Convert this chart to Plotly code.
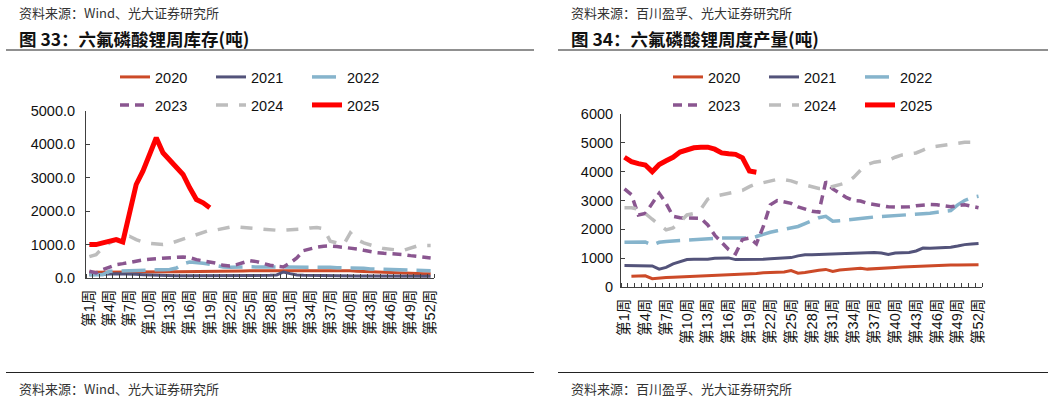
import plotly.graph_objects as go

W, H = 1062, 399

weeks = list(range(1, 53))
tick_weeks = [1, 4, 7, 10, 13, 16, 19, 22, 25, 28, 31, 34, 37, 40, 43, 46, 49, 52]
tick_labels = ["第1周", "第4周", "第7周", "第10周", "第13周", "第16周", "第19周", "第22周", "第25周",
               "第28周", "第31周", "第34周", "第37周", "第40周", "第43周", "第46周", "第49周", "第52周"]
years = ["2020", "2021", "2022", "2023", "2024", "2025"]

# ---- Figure 33: weekly inventory (tons)
inv_2020 = [170,170,165,165,170,170,175,175,180,180,180,185,185,190,190,195,195,200,200,205,205,210,210,210,215,215,
            220,220,225,225,230,230,230,235,235,235,235,230,225,215,205,195,185,175,165,160,150,145,140,135,130,125]
inv_2021 = [100,100,110,120,125,125,120,110,100,90,80,75,70,70,65,65,60,60,60,60,60,60,60,60,65,70,
            75,80,90,180,130,90,80,75,70,70,65,65,65,65,60,60,60,60,60,55,55,55,55,55,55,55]
inv_2022 = [100,100,100,200,210,220,225,230,235,240,245,250,255,300,420,480,470,440,410,360,330,320,330,340,335,330,
            330,330,335,340,340,340,340,340,340,335,320,310,310,310,305,290,270,265,265,260,255,250,235,230,225,220]
inv_2023 = [200,150,250,330,400,430,470,510,540,560,580,600,610,620,630,610,550,510,490,440,380,360,400,460,520,490,
            430,380,350,330,450,600,820,880,920,950,960,940,920,900,870,830,790,760,740,730,720,700,670,650,630,600]
inv_2024 = [640,700,900,1050,1150,1200,1250,1150,1080,1040,1020,1000,1030,1100,1150,1220,1300,1380,1430,1440,1480,1520,1530,1510,1490,1470,
            1450,1440,1430,1430,1440,1450,1470,1500,1510,1480,1100,1050,1000,1350,1150,1050,980,930,880,850,840,830,900,960,970,970]
inv_2025 = [1000,1000,1050,1100,1150,1080,2000,2800,3200,3700,4200,3750,3550,3350,3100,2700,2350,2250,2100]

# ---- Figure 34: weekly output (tons)
out_2020 = [None,370,380,390,290,320,330,340,350,360,360,380,390,400,420,430,440,440,450,470,490,500,510,520,570,480,
            500,550,580,610,540,590,610,630,650,620,640,660,670,680,690,700,720,740,750,750,755,760,760,765,765,770]
out_2021 = [750,750,750,750,730,620,680,800,880,950,960,960,960,1000,1010,1010,950,950,950,960,960,980,990,1000,1020,1080,
            1120,1120,1130,1140,1150,1160,1170,1180,1180,1190,1200,1180,1130,1180,1190,1200,1250,1350,1340,1350,1370,1380,1420,1470,1490,1510]
out_2022 = [1550,1560,1570,1560,1450,1550,1580,1600,1610,1620,1640,1660,1680,1690,1700,1700,1700,1690,1700,1750,1830,1900,1950,2000,2050,2100,
            2200,2300,2400,2450,2280,2300,2320,2350,2380,2400,2430,2450,2460,2470,2480,2500,2520,2540,2560,2580,2620,2650,2850,3000,3100,3150]
out_2023 = [3400,3200,2500,2550,2900,3250,2900,2450,2400,2400,2400,2380,2150,1800,1550,1300,1150,1650,1700,1500,2100,2850,3000,2950,2900,2780,
            2700,2630,2600,3650,3400,3250,3100,3000,2980,2900,2850,2800,2780,2770,2760,2780,2820,2850,2860,2850,2800,2780,2820,2850,2800,2750]
out_2024 = [2750,2750,2700,2550,2350,2150,1980,2050,2250,2500,2550,2700,3050,3150,3200,3250,3280,3350,3480,3580,3620,3680,3730,3720,3680,3600,
            3540,3480,3420,3420,3500,3550,3620,3800,4050,4250,4330,4370,4400,4500,4580,4620,4650,4750,4850,4880,4920,4960,5000,5020,5020,5030]
out_2025 = [4500,4350,4280,4230,4000,4250,4380,4500,4680,4760,4830,4850,4850,4780,4650,4620,4600,4480,4020,3980]

colors = ["#CC4A28", "#53537A", "#86B4CC", "#8A5690", "#BDBDBD", "#FF0000"]
dashes = ["solid", "solid", "24px,9px", "9px,6px", "12px,11px", "solid"]
widths = [3, 3, 3.5, 3.5, 3.5, 5]

FONT = "Liberation Sans, Arial, Noto Sans CJK SC, sans-serif"
CJK = "Noto Sans CJK SC, sans-serif"

fig = go.Figure()

left_series = [inv_2020, inv_2021, inv_2022, inv_2023, inv_2024, inv_2025]
right_series = [out_2020, out_2021, out_2022, out_2023, out_2024, out_2025]

for i, (name, vals) in enumerate(zip(years, left_series)):
    fig.add_trace(go.Scatter(
        x=weeks[:len(vals)], y=vals, name=name, mode="lines",
        line=dict(color=colors[i], width=widths[i], dash=dashes[i]),
        xaxis="x", yaxis="y", legend="legend" if i < 3 else "legend2",
        hoverinfo="skip"))
for i, (name, vals) in enumerate(zip(years, right_series)):
    fig.add_trace(go.Scatter(
        x=weeks[:len(vals)], y=vals, name=name, mode="lines",
        line=dict(color=colors[i], width=widths[i], dash=dashes[i]),
        xaxis="x2", yaxis="y2", legend="legend3" if i < 3 else "legend4",
        hoverinfo="skip", connectgaps=False))

AX = "#404040"

def xaxis_cfg(domain, anchor):
    return dict(domain=domain, anchor=anchor, range=[0.5, 52.5], tickmode="array",
                tickvals=tick_weeks, ticktext=tick_labels, tickangle=-90, ticks="",
                showline=True, linecolor=AX, linewidth=1, showgrid=False, zeroline=False,
                tickfont=dict(family=FONT, size=14.5, color="#111"),
                minor=dict(tickmode="linear", tick0=0.5, dtick=1, ticks="inside",
                           ticklen=4, tickcolor=AX, tickwidth=1, showgrid=False),
                ticklabelstandoff=5, fixedrange=True, automargin=False)

def yaxis_cfg(domain, anchor, rng, fmt, standoff):
    return dict(domain=domain, anchor=anchor, range=rng, dtick=1000, tick0=0, tickformat=fmt,
                ticks="inside", ticklen=4, tickcolor=AX, showline=True, linecolor=AX, linewidth=1,
                showgrid=False, zeroline=False, tickfont=dict(family=FONT, size=14.5, color="#111"),
                ticklabelstandoff=standoff, fixedrange=True, automargin=False)

ly0 = (H - 278) / H
ly1 = (H - 111) / H
ry0 = (H - 287) / H
ry1 = (H - 114) / H

def legend_cfg(x, y):
    return dict(orientation="h", x=x / W, y=1 - y / H, xanchor="left", yanchor="middle",
                entrywidth=51, entrywidthmode="pixels", font=dict(family=FONT, size=14.5, color="#111"),
                bgcolor="rgba(0,0,0,0)", borderwidth=0, tracegroupgap=0, itemclick=False,
                itemdoubleclick=False)

fig.update_layout(
    template="none",
    width=W, height=H, margin=dict(l=0, r=0, t=0, b=0, pad=0, autoexpand=False),
    paper_bgcolor="white", plot_bgcolor="white",
    xaxis=xaxis_cfg([86 / W, 434 / W], "y"),
    yaxis=yaxis_cfg([ly0, ly1], "x", [0, 5000], ".1f", 7),
    xaxis2=xaxis_cfg([621 / W, 982 / W], "y2"),
    yaxis2=yaxis_cfg([ry0, ry1], "x2", [0, 6000], "d", 4),
    legend=legend_cfg(115, 77),
    legend2=legend_cfg(115, 105),
    legend3=legend_cfg(668, 77),
    legend4=legend_cfg(668, 105),
    showlegend=True,
)

annotations = []
shapes = []
for x0, src, title, lx0, lx1 in [
    (17, "资料来源：Wind、光大证券研究所", "图 33：六氟磷酸锂周库存(吨)", 6, 534),
    (569, "资料来源：百川盈孚、光大证券研究所", "图 34：六氟磷酸锂周度产量(吨)", 558, 1048),
]:
    annotations.append(dict(text=src, x=x0 / W, y=1 - 13 / H, xref="paper", yref="paper",
                            xanchor="left", yanchor="middle", showarrow=False, align="left",
                            font=dict(family=CJK, size=13, color="#333")))
    annotations.append(dict(text="<b>" + title + "</b>", x=x0 / W, y=1 - 38.5 / H, xref="paper", yref="paper",
                            xanchor="left", yanchor="middle", showarrow=False, align="left",
                            font=dict(family=CJK, size=17.5, color="#111")))
    annotations.append(dict(text=src, x=x0 / W, y=1 - 388 / H, xref="paper", yref="paper",
                            xanchor="left", yanchor="middle", showarrow=False, align="left",
                            font=dict(family=CJK, size=13, color="#333")))
    for yy in (50, 372.5):
        shapes.append(dict(type="line", xref="paper", yref="paper", x0=lx0 / W, x1=lx1 / W,
                           y0=1 - yy / H, y1=1 - yy / H, line=dict(color="#222", width=1.2)))

fig.update_layout(annotations=annotations, shapes=shapes)

fig.write_html(
    "out.html",
    config={"displayModeBar": False, "staticPlot": False},
    post_script="document.body.style.margin='0';document.body.style.padding='0';"
                "document.documentElement.style.overflow='hidden';",
)
